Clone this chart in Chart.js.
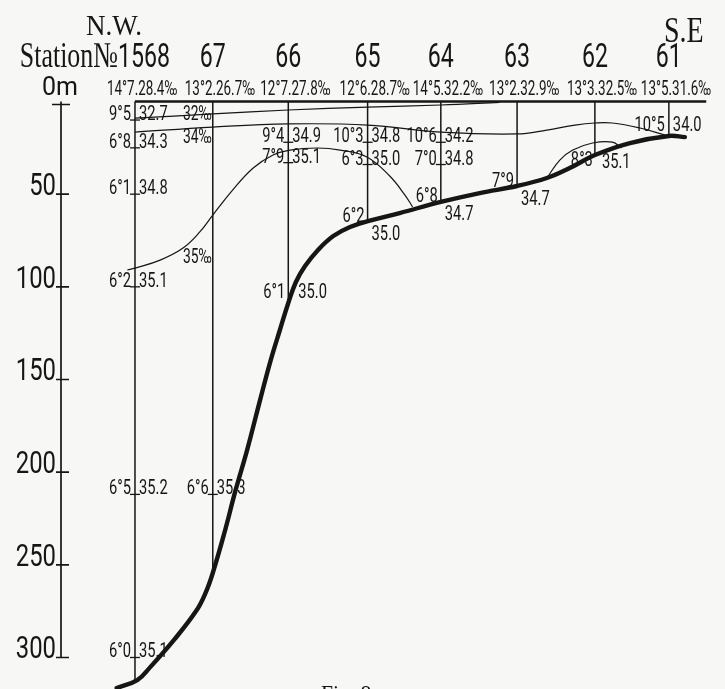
<!DOCTYPE html>
<html>
<head>
<meta charset="utf-8">
<script src="https://cdn.jsdelivr.net/npm/chart.js@4/dist/chart.umd.min.js"></script>
<style>
  html, body { margin: 0; padding: 0; background: #f7f7f5; }
  #wrap { width: 725px; height: 689px; }
</style>
</head>
<body>
<div id="wrap"><canvas id="section"></canvas></div>
<script>
// stations along the section, N.W. -> S.E.
const stationLabels = ["1568", "67", "66", "65", "64", "63", "62", "61"];
const stationDist = [0, 1.02, 2.01, 3.05, 4.01, 5.01, 6.03, 7.0];
const stationDepth = [313, 254, 107, 65, 54, 46, 29, 18];
const surfaceTemp = [14.7, 13.2, 12.7, 12.6, 14.5, 13.2, 13.3, 13.5];
const surfaceSal = [28.4, 26.7, 27.8, 28.7, 32.2, 32.9, 32.5, 31.6];
const sectionEnd = 7.49;

const depthTicks = [50, 100, 150, 200, 250, 300];

// observations below the surface
const sampleStation = [0, 0, 0, 0, 0, 0, 1, 2, 2, 2, 3, 3, 3, 4, 4, 4, 5, 6, 7];
const sampleDepth = [10, 25, 50, 100, 212, 300, 212, 22, 33, 106, 22, 34, 65, 22, 34, 54, 46, 29, 16];
const sampleTemp = [9.5, 6.8, 6.1, 6.2, 6.5, 6.0, 6.6, 9.4, 7.9, 6.1, 10.3, 6.3, 6.2, 10.6, 7.0, 6.8, 7.9, 8.3, 10.5];
const sampleSal = [32.7, 34.3, 34.8, 35.1, 35.2, 35.1, 35.3, 34.9, 35.1, 35.0, 34.8, 35.0, 35.0, 34.2, 34.8, 34.7, 34.7, 35.1, 34.0];

// sea bottom profile
const bottomDist = [-0.24, 0.03, 0.20, 0.52, 0.81, 0.93, 1.02, 1.17, 1.32, 1.47, 1.64, 1.78, 1.90, 2.01, 2.11, 2.23, 2.40, 2.60, 2.82, 3.08, 3.47, 4.01, 4.52, 5.01, 5.40, 5.70, 6.03, 6.49, 7.00, 7.21];
const bottomDepth = [316.5, 312.2, 305.2, 290.1, 274.4, 264.7, 254.4, 233.1, 209.6, 188.1, 161.1, 139.5, 123.3, 108.7, 97.4, 88.8, 80.1, 72.6, 67.7, 64.3, 60.2, 54.2, 49.4, 45.6, 41.3, 35.9, 28.9, 22.4, 18.6, 19.2];

// isohalines
const iso32Dist = [0, 1.02, 2.01, 3.05, 4.01, 4.78];
const iso32Depth = [9, 6.7, 4.6, 3.0, 1.9, 0.5];
const iso34Dist = [0, 1.02, 2.01, 3.05, 4.01, 5.01, 5.40, 5.77, 6.03, 6.26, 6.62, 6.95];
const iso34Depth = [16.5, 13.8, 12.1, 12.7, 16.5, 17.5, 15.4, 12.7, 11.6, 11.6, 14.3, 18.1];
const iso35Dist = [-0.10, 0, 0.33, 0.63, 0.85, 1.02, 1.28, 1.55, 1.81, 2.03, 2.39, 2.69, 3.04, 3.34, 3.54, 3.64];
const iso35Depth = [90.9, 89.9, 85.6, 79.1, 70.4, 61.3, 47.8, 35.9, 28.9, 26.2, 25.1, 26.2, 29.9, 40.2, 50.5, 56.9];
const lensDist = [5.40, 5.57, 5.74, 6.00, 6.26, 6.38];
const lensDepth = [41.3, 31.6, 26.2, 22.4, 21.9, 25.1];

const ink = "#161616";
const numFont = "Roboto, 'Liberation Sans', sans-serif";
const serifFont = "'Liberation Serif', 'DejaVu Serif', serif";

// how each sample label sits (by sample index)
const placement = { 9: "wide", 12: "bottom", 15: "bottom", 16: "bottom", 17: "lens", 18: "plain" };

const pts = (xs, ys) => xs.map((x, i) => ({ x: x, y: ys[i] }));
const fmtT = v => v.toFixed(1).replace(".", "°");
const fmtS = v => v.toFixed(1);

function line(data, width, extra) {
  return Object.assign({
    data: data,
    showLine: true,
    borderColor: ink,
    borderWidth: width,
    pointRadius: 0,
    fill: false,
    clip: false
  }, extra || {});
}

const datasets = [];
datasets.push(line([{ x: stationDist[0], y: 0 }, { x: sectionEnd, y: 0 }], 2.4));
stationDist.forEach((d, i) => {
  datasets.push(line([{ x: d, y: 0 }, { x: d, y: stationDepth[i] }], 1.5));
});
datasets.push(line(pts(iso32Dist, iso32Depth), 1.2, { tension: 0.4 }));
datasets.push(line(pts(iso34Dist, iso34Depth), 1.2, { tension: 0.4 }));
datasets.push(line(pts(iso35Dist, iso35Depth), 1.2, { tension: 0.4 }));
datasets.push(line(pts(lensDist, lensDepth), 1.2, { tension: 0.4 }));
datasets.push(line(pts(bottomDist, bottomDepth), 4.4, { tension: 0.4, borderCapStyle: "round" }));

function txt(ctx, s, x, y, size, align, sx, family, weight) {
  ctx.save();
  ctx.font = (weight || "400") + " " + size + "px " + (family || numFont);
  ctx.translate(x, y);
  ctx.scale(sx || 0.7, 1);
  ctx.textAlign = align || "left";
  ctx.textBaseline = "alphabetic";
  ctx.fillStyle = ink;
  ctx.fillText(s, 0, 0);
  ctx.restore();
}

const sectionText = {
  id: "sectionText",
  beforeDraw(chart) {
    const c = chart.ctx;
    c.save();
    c.fillStyle = "#f7f7f5";
    c.fillRect(0, 0, chart.width, chart.height);
    c.restore();
  },
  afterDatasetsDraw(chart) {
    const c = chart.ctx;
    const X = v => chart.scales.x.getPixelForValue(v);
    const Y = v => chart.scales.y.getPixelForValue(v);
    const top = Y(0);
    const ax = chart.chartArea.left;

    // depth axis
    c.save();
    c.strokeStyle = ink;
    c.lineWidth = 1.7;
    c.beginPath();
    c.moveTo(ax, top);
    c.lineTo(ax, Y(300));
    c.moveTo(ax - 9, top + 3);
    c.lineTo(ax + 9, top + 3);
    depthTicks.forEach(d => {
      c.moveTo(ax - 5, Y(d));
      c.lineTo(ax + 8, Y(d));
    });
    c.stroke();
    c.restore();
    depthTicks.forEach(d => txt(c, String(d), ax - 5, Y(d) + 1, 31, "right", 0.77));
    txt(c, "0m", ax - 19, top - 6.5, 25, "left", 1.0);

    // headings
    txt(c, "N.W.", X(0) - 21, top - 66.5, 30, "center", 0.9, serifFont);
    txt(c, "S.E", X(stationDist[7]) + 15, top - 59.5, 35, "center", 0.8, serifFont);
    txt(c, "Station№", X(0) - 17, top - 34.5, 36, "right", 0.72, serifFont);
    stationLabels.forEach((s, i) => {
      if (i === 0) txt(c, s, X(stationDist[i]) - 17, top - 34.5, 34, "left", 0.68);
      else txt(c, s, X(stationDist[i]), top - 34.5, 34, "center", 0.68);
      txt(c, fmtT(surfaceTemp[i]) + "." + fmtS(surfaceSal[i]) + "‰",
        X(stationDist[i]) - 28, top - 6.5, 21, "left", 0.64);
    });

    // isohaline labels
    const x67 = X(stationDist[1]);
    txt(c, "32‰", x67 - 1, Y(10), 21, "right", 0.66);
    txt(c, "34‰", x67 - 1, Y(22.4), 21, "right", 0.66);
    txt(c, "35‰", x67 - 1, Y(87), 21, "right", 0.66);

    // sample values
    sampleStation.forEach((st, i) => {
      const x = X(stationDist[st]);
      const y = Y(sampleDepth[i]);
      const mode = placement[i] || "row";
      const t = fmtT(sampleTemp[i]);
      const s = fmtS(sampleSal[i]);
      if (mode === "row") {
        c.save();
        c.strokeStyle = ink;
        c.lineWidth = 1.3;
        c.beginPath();
        c.moveTo(x - 5, y);
        c.lineTo(x + 5, y);
        c.stroke();
        c.restore();
        txt(c, t, x - 4, y, 21, "right");
        txt(c, s, x + 4, y, 21, "left");
      } else if (mode === "plain") {
        txt(c, t, x - 4, y, 21, "right");
        txt(c, s, x + 4, y, 21, "left");
      } else if (mode === "wide") {
        txt(c, t, x - 3, y, 21, "right");
        txt(c, s, x + 10, y, 21, "left");
      } else if (mode === "bottom") {
        txt(c, t, x - 3, y, 21, "right");
        txt(c, s, x + 4, y + 18, 21, "left");
      } else if (mode === "lens") {
        txt(c, t, x - 2, y + 11, 21, "right");
        txt(c, s, x + 7, y + 13, 21, "left");
      }
    });

    // caption, cut by the page edge
    txt(c, "Fig. 8.", 321, 701, 24, "left", 0.9, serifFont);
  }
};

new Chart(document.getElementById("section").getContext("2d"), {
  type: "scatter",
  data: { datasets: datasets },
  options: {
    responsive: true,
    maintainAspectRatio: false,
    animation: false,
    events: [],
    layout: { padding: { left: 61, right: 18, top: 101.5, bottom: 0 } },
    plugins: { legend: { display: false }, tooltip: { enabled: false } },
    scales: {
      x: { type: "linear", min: -0.97, max: 7.5, display: false },
      y: { type: "linear", reverse: true, min: 0, max: 317, display: false }
    }
  },
  plugins: [sectionText]
});
</script>
</body>
</html>
